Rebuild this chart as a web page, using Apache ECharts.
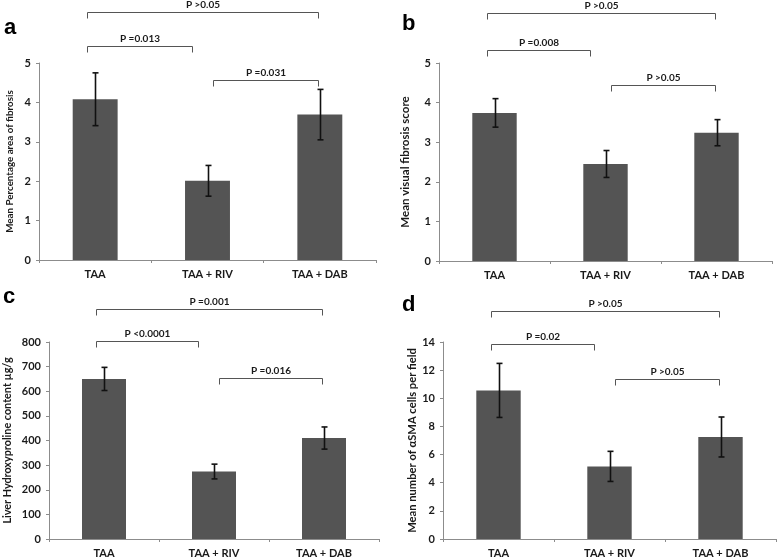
<!DOCTYPE html>
<html>
<head>
<meta charset="utf-8">
<script src="https://cdn.jsdelivr.net/npm/echarts@6/dist/echarts.min.js"></script>
<style>html,body{margin:0;padding:0;background:#fff}#c{width:778px;height:559px}</style>
</head>
<body>
<div id="c"></div>
<script>
// ---- data ----
const categories = ['TAA', 'TAA + RIV', 'TAA + DAB'];

const aMeans = [4.08, 2.01, 3.69];
const aErrors = [0.67, 0.39, 0.64];
const bMeans = [3.74, 2.45, 3.24];
const bErrors = [0.36, 0.34, 0.33];
const cMeans = [650, 274, 410];
const cErrors = [47, 30, 45];
const dMeans = [10.56, 5.16, 7.25];
const dErrors = [1.92, 1.07, 1.42];

const aTicks = [0, 1, 2, 3, 4, 5];
const bTicks = [0, 1, 2, 3, 4, 5];
const cTicks = [0, 100, 200, 300, 400, 500, 600, 700, 800];
const dTicks = [0, 2, 4, 6, 8, 10, 12, 14];

const aTitle = 'Mean Percentage area of fibrosis';
const bTitle = 'Mean visual fibrosis score';
const cTitle = 'Liver Hydroxyproline content µg/g';
const dTitle = 'Mean number of αSMA cells per field';

// brackets: [fromCategory, toCategory, label]
const aBrackets = [[0, 2, 'P >0.05'], [0, 1, 'P =0.013'], [1, 2, 'P =0.031']];
const bBrackets = [[0, 2, 'P >0.05'], [0, 1, 'P =0.008'], [1, 2, 'P >0.05']];
const cBrackets = [[0, 2, 'P =0.001'], [0, 1, 'P <0.0001'], [1, 2, 'P =0.016']];
const dBrackets = [[0, 2, 'P >0.05'], [0, 1, 'P =0.02'], [1, 2, 'P >0.05']];

const panelLetters = ['a', 'b', 'c', 'd'];

// ---- layout ----
const FONT = 'Lato, "Open Sans", sans-serif';
const panels = [
  { means: aMeans, errors: aErrors, ticks: aTicks, title: aTitle, brackets: aBrackets, titleSize: 9.8,
    grid: { left: 39, top: 63, width: 337, height: 197 }, nameGap: 24, levels: [-51, -17, 17], letter: [4, 30] },
  { means: bMeans, errors: bErrors, ticks: bTicks, title: bTitle, brackets: bBrackets, titleSize: 11.5,
    grid: { left: 439, top: 63, width: 333, height: 198 }, nameGap: 28, levels: [-50, -13, 22], letter: [402, 26] },
  { means: cMeans, errors: cErrors, ticks: cTicks, title: cTitle, brackets: cBrackets, titleSize: 10.8,
    grid: { left: 49, top: 342, width: 330, height: 197 }, nameGap: 36, levels: [-33, -1, 36], letter: [3, 299] },
  { means: dMeans, errors: dErrors, ticks: dTicks, title: dTitle, brackets: dBrackets, titleSize: 11.2,
    grid: { left: 443, top: 342, width: 333, height: 197 }, nameGap: 20, levels: [-31, 2, 37], letter: [402, 307] }
];
const leftOff = [-8, 5, 0];
const rightOff = [0, -16, -2];

const grids = [], xAxes = [], yAxes = [], series = [], graphics = [];

panels.forEach((p, i) => {
  grids.push(Object.assign({ containLabel: false }, p.grid));
  xAxes.push({
    type: 'category', gridIndex: i, data: categories,
    axisLine: { lineStyle: { color: '#8c8c8c', width: 1 } },
    axisTick: { show: true, length: 3, lineStyle: { color: '#8c8c8c' } },
    axisLabel: { color: '#1a1a1a', fontFamily: FONT, fontWeight: 'bold', fontSize: 11, margin: 9 }
  });
  const step = p.ticks[1] - p.ticks[0];
  yAxes.push({
    type: 'value', gridIndex: i, min: p.ticks[0], max: p.ticks[p.ticks.length - 1], interval: step,
    name: p.title, nameLocation: 'middle', nameGap: p.nameGap,
    nameTextStyle: { color: '#1a1a1a', fontFamily: FONT, fontWeight: 'bold', fontSize: p.titleSize },
    axisLine: { show: true, lineStyle: { color: '#8c8c8c', width: 1 } },
    axisTick: { show: true, length: 3, lineStyle: { color: '#8c8c8c' } },
    splitLine: { show: false },
    axisLabel: { color: '#1a1a1a', fontFamily: FONT, fontWeight: 'bold', fontSize: 11, margin: 8 }
  });
  series.push({
    type: 'bar', xAxisIndex: i, yAxisIndex: i, data: p.means, barWidth: '40%',
    itemStyle: { color: '#545454' }, silent: true, animation: false
  });
  series.push({
    type: 'custom', xAxisIndex: i, yAxisIndex: i, animation: false, silent: true, z: 5,
    data: p.means.map((m, k) => [k, m - p.errors[k], m + p.errors[k]]),
    renderItem: function (params, api) {
      const lo = api.coord([api.value(0), api.value(1)]);
      const hi = api.coord([api.value(0), api.value(2)]);
      const x = Math.round(lo[0]) + 0.5, cw = 3;
      const st = { stroke: '#111', lineWidth: 1.6 };
      return { type: 'group', children: [
        { type: 'line', shape: { x1: x, y1: hi[1], x2: x, y2: lo[1] }, style: st },
        { type: 'line', shape: { x1: x - cw, y1: hi[1], x2: x + cw, y2: hi[1] }, style: st },
        { type: 'line', shape: { x1: x - cw, y1: lo[1], x2: x + cw, y2: lo[1] }, style: st }
      ]};
    }
  });
  series.push({
    type: 'custom', xAxisIndex: i, yAxisIndex: i, animation: false, silent: true, clip: false, z: 6,
    data: p.brackets.map((b, k) => [b[0], b[1], k]),
    renderItem: function (params, api) {
      const from = api.value(0), to = api.value(1), lvl = api.value(2);
      const b = p.brackets[params.dataIndex];
      const x1 = Math.round(api.coord([from, 0])[0] + leftOff[from]) + 0.5;
      const x2 = Math.round(api.coord([to, 0])[0] + rightOff[to]) + 0.5;
      const y = Math.round(params.coordSys.y + p.levels[lvl]) + 0.5;
      const st = { stroke: '#555', lineWidth: 1 };
      return { type: 'group', children: [
        { type: 'line', shape: { x1: x1, y1: y, x2: x2, y2: y }, style: st },
        { type: 'line', shape: { x1: x1, y1: y, x2: x1, y2: y + 6 }, style: st },
        { type: 'line', shape: { x1: x2, y1: y, x2: x2, y2: y + 6 }, style: st },
        { type: 'text', style: { x: (x1 + x2) / 2, y: y - 3, text: b[2], textAlign: 'center', textVerticalAlign: 'bottom',
          fill: '#1a1a1a', font: 'bold 10px ' + FONT } }
      ]};
    }
  });
  graphics.push({
    type: 'text', left: p.letter[0], top: p.letter[1] - 13,
    style: { text: panelLetters[i], fill: '#000', font: 'bold 22px Arial, "Liberation Sans", sans-serif' }
  });
});

const chart = echarts.init(document.getElementById('c'), null, { renderer: 'canvas' });
chart.setOption({
  animation: false,
  backgroundColor: '#fff',
  grid: grids, xAxis: xAxes, yAxis: yAxes, series: series, graphic: graphics
});
</script>
</body>
</html>
